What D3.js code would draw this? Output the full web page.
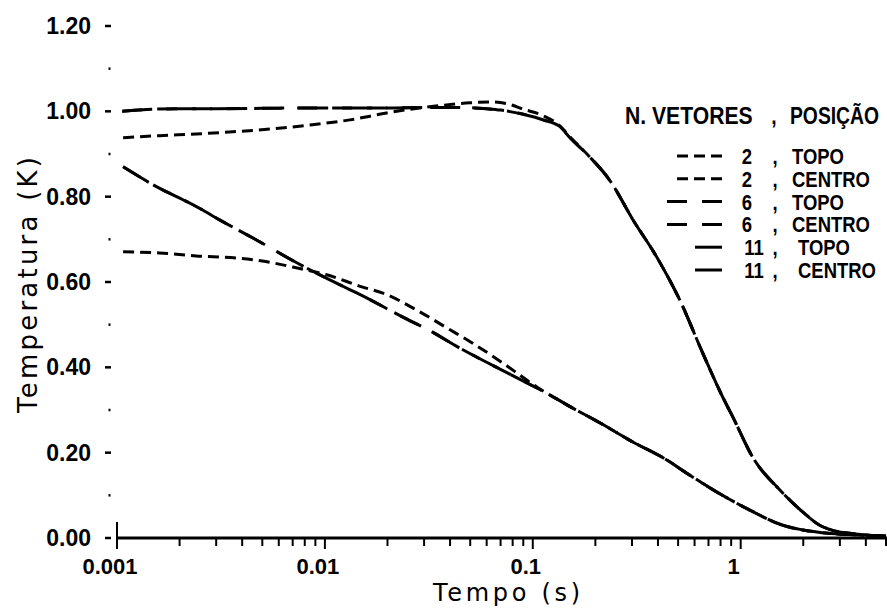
<!DOCTYPE html>
<html>
<head>
<meta charset="utf-8">
<script src="https://cdn.jsdelivr.net/npm/d3@7"></script>
<style>
  body { margin: 0; background: #fff; }
  svg { display: block; }
</style>
</head>
<body>
<div id="chart"></div>
<script>
// Chart size
var width = 887,
    height = 608;

// Data: [tempo (s), temperatura (K)]
var topo2 = [[0.00107, 0.938], [0.0016, 0.943], [0.0024, 0.947], [0.0036, 0.952], [0.0056, 0.959],
             [0.0085, 0.968], [0.0132, 0.980], [0.0198, 0.996], [0.025, 1.004], [0.035, 1.013],
             [0.05, 1.020], [0.062, 1.022], [0.075, 1.018], [0.09, 1.005], [0.112, 0.990],
             [0.135, 0.966], [0.151, 0.940], [0.188, 0.893], [0.234, 0.839], [0.303, 0.746],
             [0.394, 0.659], [0.509, 0.558], [0.656, 0.434], [0.818, 0.331], [0.916, 0.284],
             [1.14, 0.190], [1.54, 0.113], [2.0, 0.060], [2.40, 0.030], [2.77, 0.018],
             [3.5, 0.010], [5.0, 0.004]];

var centro2 = [[0.00107, 0.671], [0.0016, 0.668], [0.0024, 0.661], [0.0038, 0.656], [0.0056, 0.645],
               [0.0070, 0.635], [0.0102, 0.617], [0.0152, 0.588], [0.019, 0.574], [0.0286, 0.530],
               [0.040, 0.488], [0.050, 0.460], [0.0718, 0.410], [0.0866, 0.382], [0.1045, 0.354],
               [0.125, 0.331], [0.146, 0.312], [0.210, 0.270], [0.303, 0.225], [0.441, 0.183],
               [0.550, 0.152], [0.767, 0.108], [1.10, 0.066], [1.59, 0.030], [2.32, 0.014],
               [3.34, 0.008], [5.0, 0.004]];

var topo6 = [[0.00106, 1.000], [0.0015, 1.005], [0.002, 1.006], [0.003, 1.006], [0.005, 1.007],
             [0.008, 1.008], [0.012, 1.008], [0.02, 1.008], [0.03, 1.009], [0.045, 1.009],
             [0.06, 1.006], [0.07, 1.003], [0.09, 0.993], [0.112, 0.980], [0.135, 0.964],
             [0.151, 0.938], [0.188, 0.893], [0.234, 0.839], [0.303, 0.746], [0.394, 0.659],
             [0.509, 0.558], [0.656, 0.434], [0.818, 0.331], [0.916, 0.284], [1.14, 0.190],
             [1.54, 0.113], [2.0, 0.060], [2.40, 0.030], [2.77, 0.018], [3.5, 0.010], [5.0, 0.004]];

var centro6 = [[0.00107, 0.870], [0.00144, 0.832], [0.00251, 0.772], [0.00313, 0.745], [0.00451, 0.703],
               [0.00733, 0.645], [0.0122, 0.590], [0.0143, 0.574], [0.0248, 0.513], [0.0309, 0.490],
               [0.0446, 0.445], [0.0775, 0.384], [0.121, 0.335], [0.146, 0.312], [0.210, 0.270],
               [0.303, 0.225], [0.441, 0.183], [0.550, 0.152], [0.767, 0.108], [1.10, 0.066],
               [1.59, 0.030], [2.32, 0.014], [3.34, 0.008], [5.0, 0.004]];

var topo11 = topo6.map(function(d) { return d.slice(); });
var centro11 = centro6.map(function(d) { return d.slice(); });

var xTickLabels = ["0.001", "0.01", "0.1", "1"];
var legendNumbers = ["2", "2", "6", "6", "11", "11"];
var legendPositions = ["TOPO", "CENTRO", "TOPO", "CENTRO", "TOPO", "CENTRO"];

// series list with line styles
var series = [
  {values: topo2,    dash: "11,6"},
  {values: centro2,  dash: "11,6"},
  {values: topo6,    dash: "20,15"},
  {values: centro6,  dash: "20,15"},
  {values: topo11,   dash: "30,14"},
  {values: centro11, dash: "30,14"}
];

var svg = d3.select("#chart")
            .append("svg")
            .attr("width", width)
            .attr("height", height);

// Scales
var x = d3.scaleLog().domain([0.001, 5]).range([117, 886]);
var y = d3.scaleLinear().domain([0, 1.2]).range([538, 26]);

// Y ticks: majors every 0.2, minors in between (no axis line)
var yTicks = d3.range(0, 13).map(function(i) { return i / 10; });
svg.selectAll(".ytick")
   .data(yTicks)
   .enter()
   .append("line")
   .attr("x1", function(d, i) { return i % 2 == 0 ? 105 : 108.5; })
   .attr("x2", function(d, i) { return i % 2 == 0 ? 111 : 110.5; })
   .attr("y1", function(d) { return y(d); })
   .attr("y2", function(d) { return y(d); })
   .attr("stroke", "#000")
   .attr("stroke-width", 2.5);

svg.selectAll(".ylabel")
   .data(yTicks.filter(function(d, i) { return i % 2 == 0; }))
   .enter()
   .append("text")
   .attr("x", 91)
   .attr("y", function(d) { return y(d) + 8; })
   .attr("text-anchor", "end")
   .style("font-family", "'Liberation Sans', Arial, sans-serif")
   .style("font-weight", "bold")
   .style("font-size", "23px")
   .text(function(d) { return d3.format(".2f")(d); });

// X axis line and ticks
svg.append("line")
   .attr("x1", x(0.001)).attr("x2", width)
   .attr("y1", y(0)).attr("y2", y(0))
   .attr("stroke", "#000")
   .attr("stroke-width", 3);

var xTicks = x.ticks();
svg.selectAll(".xtick")
   .data(xTicks)
   .enter()
   .append("line")
   .attr("x1", function(d) { return x(d); })
   .attr("x2", function(d) { return x(d); })
   .attr("y1", function(d) { return d === 0.001 ? y(0) - 16 : y(0); })
   .attr("y2", function(d) { return Math.abs(Math.log10(d) - Math.round(Math.log10(d))) < 1e-9 ? y(0) + 11 : y(0) + 8; })
   .attr("stroke", "#000")
   .attr("stroke-width", 2);

svg.selectAll(".xlabel")
   .data(xTickLabels)
   .enter()
   .append("text")
   .attr("x", function(d) { return x(+d) - 7; })
   .attr("y", 574)
   .attr("text-anchor", "middle")
   .style("font-family", "'Liberation Sans', Arial, sans-serif")
   .style("font-weight", "bold")
   .style("font-size", "22px")
   .text(function(d) { return d; });

// Axis titles
svg.append("text")
   .attr("x", 433)
   .attr("y", 601)
   .attr("textLength", 147)
   .attr("lengthAdjust", "spacing")
   .style("font-family", "'DejaVu Sans', sans-serif")
   .style("font-size", "24px")
   .text("Tempo (s)");

svg.append("text")
   .attr("transform", "translate(37, 285) rotate(-90)")
   .attr("text-anchor", "middle")
   .attr("textLength", 256)
   .attr("lengthAdjust", "spacing")
   .style("font-family", "'DejaVu Sans', sans-serif")
   .style("font-size", "26px")
   .text("Temperatura (K)");

// Curves
var line = d3.line()
             .x(function(d) { return x(d[0]); })
             .y(function(d) { return y(d[1]); })
             .curve(d3.curveMonotoneX);

svg.selectAll(".curve")
   .data(series)
   .enter()
   .append("path")
   .attr("d", function(d) { return line(d.values); })
   .attr("fill", "none")
   .attr("stroke", "#000")
   .attr("stroke-width", 3)
   .attr("stroke-linecap", "butt")
   .attr("stroke-dasharray", function(d) { return d.dash; });

// Legend: condensed lettering made by squeezing the glyphs horizontally
var legend = svg.append("g")
                .style("font-family", "'Liberation Sans', Arial, sans-serif")
                .style("font-weight", "bold")
                .style("font-size", "23px");

function legendText(g, px, py, txt, anchor, sq) {
  return g.append("text")
          .attr("transform", "translate(" + px + "," + py + ") scale(" + (sq || 0.84) + ",1)")
          .attr("text-anchor", anchor || "start")
          .text(txt);
}

legendText(legend, 625, 124, "N. VETORES", "start", 0.92);
legendText(legend, 774, 124, ",", "middle");
legendText(legend, 790, 124, "POSIÇÃO");

var sampleStart = [677, 677, 667, 667, 695, 695];
var rows = legend.selectAll(".row")
                 .data(series)
                 .enter()
                 .append("g")
                 .style("font-size", "22px")
                 .attr("transform", function(d, i) { return "translate(0," + (164 + i * 22.8) + ")"; });

rows.append("line")
    .attr("x1", function(d, i) { return sampleStart[i]; })
    .attr("x2", 722)
    .attr("y1", -8).attr("y2", -8)
    .attr("stroke", "#000")
    .attr("stroke-width", 3)
    .attr("stroke-dasharray", function(d) { return d.dash; });

rows.each(function(d, i) {
  var g = d3.select(this);
  var two = legendNumbers[i].length > 1;
  legendText(g, two ? 754 : 747, 0, legendNumbers[i], "middle");
  legendText(g, 775, 0, ",", "middle");
  legendText(g, two ? 798 : 792, 0, legendPositions[i]);
});
</script>
</body>
</html>
